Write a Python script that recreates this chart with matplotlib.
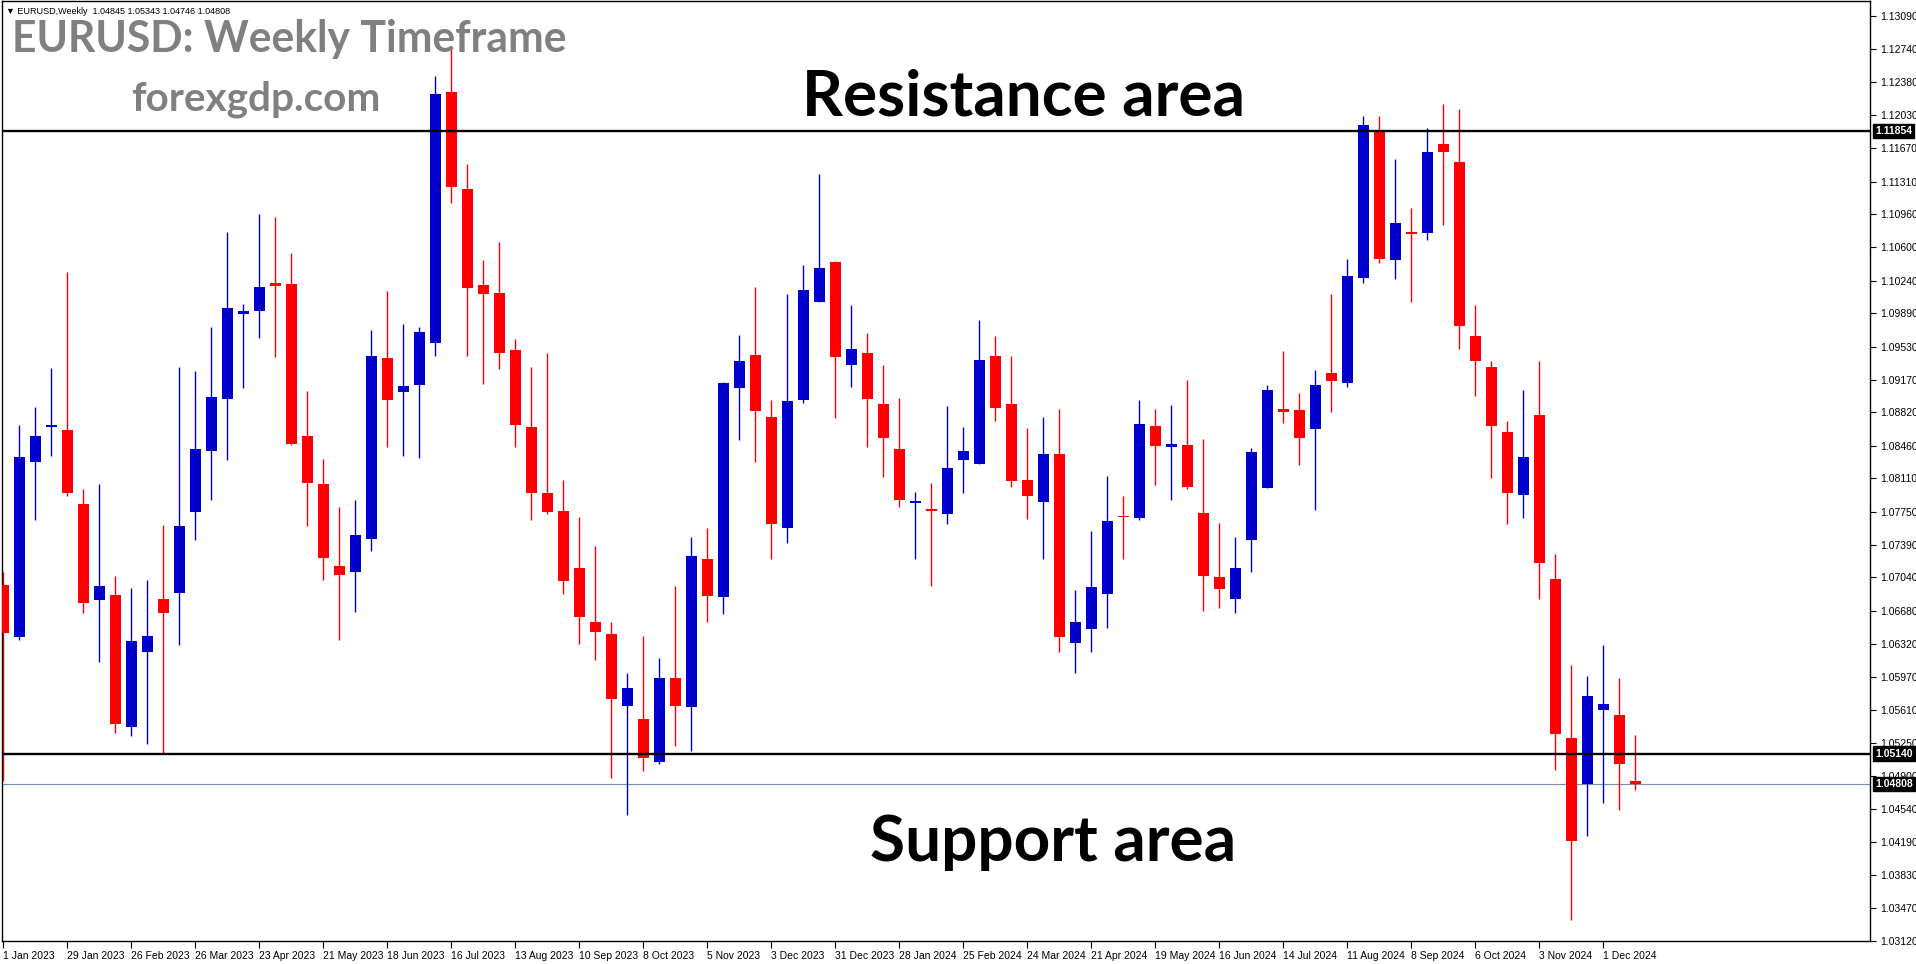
import matplotlib
matplotlib.use("Agg")
import matplotlib.pyplot as plt
import matplotlib.transforms as mtransforms
import numpy as np
import pandas as pd

# weekly EURUSD candles, 1 Jan 2023 .. 15 Dec 2024 (last one still open)
opens = [1.06954, 1.06397, 1.08286, 1.08664, 1.08627, 1.07828, 1.06800, 1.06849, 1.05431, 1.06236,
         1.06812, 1.06874, 1.07747, 1.08398, 1.08967, 1.09884, 1.09909, 1.10212, 1.10200, 1.08565,
         1.08045, 1.07159, 1.07103, 1.07456, 1.09407, 1.09036, 1.09110, 1.09568, 1.12275, 1.11228,
         1.10194, 1.10107, 1.09488, 1.08658, 1.07945, 1.07753, 1.07140, 1.06564, 1.06434, 1.05654,
         1.05511, 1.05047, 1.05951, 1.05647, 1.07233, 1.06831, 1.09085, 1.09438, 1.08769, 1.07574,
         1.08955, 1.10014, 1.10442, 1.09327, 1.09457, 1.08906, 1.08422, 1.07846, 1.07778, 1.07722,
         1.08311, 1.08268, 1.09426, 1.08906, 1.08088, 1.07853, 1.08367, 1.06335, 1.06484, 1.06861,
         1.07698, 1.07679, 1.08670, 1.08441, 1.08466, 1.07735, 1.07041, 1.06812, 1.07438, 1.08007,
         1.08856, 1.08844, 1.08645, 1.09240, 1.09141, 1.10274, 1.11841, 1.10466, 1.10764, 1.10751,
         1.11711, 1.11519, 1.09643, 1.09308, 1.08608, 1.07933, 1.08788, 1.07023, 1.05307, 1.04811,
         1.05610, 1.05555, 1.04845]
highs = [1.07103, 1.08683, 1.08875, 1.09296, 1.10330, 1.07989, 1.08045, 1.07054, 1.06923, 1.07010,
         1.07605, 1.09308, 1.09265, 1.09742, 1.10764, 1.09989, 1.10956, 1.10925, 1.10535, 1.09048,
         1.08317, 1.07797, 1.07871, 1.09705, 1.10126, 1.09773, 1.09742, 1.12448, 1.12758, 1.11501,
         1.10460, 1.10658, 1.09612, 1.09308, 1.09457, 1.08088, 1.07691, 1.07376, 1.06564, 1.06007,
         1.06409, 1.06168, 1.06942, 1.07475, 1.07568, 1.09147, 1.09655, 1.10169, 1.08949, 1.10095,
         1.10411, 1.11389, 1.10454, 1.09977, 1.09674, 1.09327, 1.08974, 1.07958, 1.08057, 1.08887,
         1.08658, 1.09816, 1.09643, 1.09426, 1.08652, 1.08769, 1.08856, 1.06899, 1.07537, 1.08131,
         1.07914, 1.08949, 1.08856, 1.08899, 1.09172, 1.08528, 1.07630, 1.07475, 1.08435, 1.09116,
         1.09482, 1.09029, 1.09277, 1.10095, 1.10473, 1.12015, 1.12015, 1.11550, 1.11024, 1.11885,
         1.12145, 1.12089, 1.09977, 1.09370, 1.08726, 1.09060, 1.09370, 1.07289, 1.06100, 1.05976,
         1.06310, 1.05951, 1.05343]
lows = [1.04842, 1.06366, 1.07661, 1.08354, 1.07921, 1.06657, 1.06131, 1.05363, 1.05332, 1.05245,
        1.05140, 1.06316, 1.07444, 1.07877, 1.08311, 1.09085, 1.09618, 1.09420, 1.08472, 1.07599,
        1.07016, 1.06360, 1.06669, 1.07326, 1.08441, 1.08354, 1.08329, 1.09432, 1.11073, 1.09432,
        1.09122, 1.09290, 1.08447, 1.07661, 1.07722, 1.06861, 1.06323, 1.06149, 1.04879, 1.04477,
        1.04954, 1.05028, 1.05220, 1.05171, 1.06564, 1.06645, 1.08521, 1.08286, 1.07233, 1.07413,
        1.08918, 1.10014, 1.08757, 1.09098, 1.08441, 1.08125, 1.07803, 1.07233, 1.06948, 1.07617,
        1.07952, 1.08268, 1.08732, 1.08014, 1.07667, 1.07233, 1.06230, 1.06013, 1.06236, 1.06496,
        1.07233, 1.07661, 1.08032, 1.07877, 1.07995, 1.06682, 1.06713, 1.06657, 1.07103, 1.08007,
        1.08701, 1.08255, 1.07772, 1.08819, 1.09098, 1.10219, 1.10435, 1.10262, 1.10014, 1.10683,
        1.10838, 1.09500, 1.08998, 1.08107, 1.07611, 1.07685, 1.06812, 1.04966, 1.03343, 1.04254,
        1.04607, 1.04533, 1.04746]
closes = [1.06440, 1.08336, 1.08565, 1.08689, 1.07945, 1.06769, 1.06942, 1.05462, 1.06354, 1.06403,
          1.06651, 1.07592, 1.08422, 1.08986, 1.09946, 1.09909, 1.10169, 1.10188, 1.08484, 1.08057,
          1.07252, 1.07066, 1.07493, 1.09426, 1.08955, 1.09104, 1.09686, 1.12250, 1.11253, 1.10157,
          1.10101, 1.09463, 1.08689, 1.07945, 1.07741, 1.07004, 1.06614, 1.06453, 1.05728, 1.05852,
          1.05096, 1.05951, 1.05654, 1.07270, 1.06843, 1.09135, 1.09370, 1.08837, 1.07617, 1.08943,
          1.10138, 1.10373, 1.09413, 1.09500, 1.08967, 1.08546, 1.07877, 1.07859, 1.07760, 1.08218,
          1.08404, 1.09382, 1.08862, 1.08082, 1.07921, 1.08367, 1.06397, 1.06564, 1.06936, 1.07648,
          1.07692, 1.08695, 1.08460, 1.08484, 1.08014, 1.07060, 1.06917, 1.07140, 1.08391, 1.09060,
          1.08819, 1.08546, 1.09116, 1.09153, 1.10287, 1.11916, 1.10479, 1.10863, 1.10739, 1.11625,
          1.11631, 1.09748, 1.09370, 1.08676, 1.07952, 1.08336, 1.07190, 1.05350, 1.04198, 1.05765,
          1.05678, 1.05028, 1.04808]

resistance = 1.11854
support = 1.05140
last_price = 1.04808

y_ticks = [1.13090, 1.12740, 1.12380, 1.12030, 1.11670, 1.11310, 1.10960, 1.10600, 1.10240,
           1.09890, 1.09530, 1.09170, 1.08820, 1.08460, 1.08110, 1.07750, 1.07390, 1.07040,
           1.06680, 1.06320, 1.05970, 1.05610, 1.05250, 1.04900, 1.04540, 1.04190, 1.03830,
           1.03470, 1.03120]
x_tick_labels = ["1 Jan 2023", "29 Jan 2023", "26 Feb 2023", "26 Mar 2023", "23 Apr 2023",
                 "21 May 2023", "18 Jun 2023", "16 Jul 2023", "13 Aug 2023", "10 Sep 2023",
                 "8 Oct 2023", "5 Nov 2023", "3 Dec 2023", "31 Dec 2023", "28 Jan 2024",
                 "25 Feb 2024", "24 Mar 2024", "21 Apr 2024", "19 May 2024", "16 Jun 2024",
                 "14 Jul 2024", "11 Aug 2024", "8 Sep 2024", "6 Oct 2024", "3 Nov 2024",
                 "1 Dec 2024"]

bull = "#0000CC"
bear = "#FF0000"
axis_font = "Liberation Sans"

o = np.array(opens)
h = np.array(highs)
l = np.array(lows)
c = np.array(closes)
x = np.arange(len(o))
dates = pd.date_range("2023-01-01", periods=len(o), freq="7D")
tick_pos = [dates.get_loc(d) for d in pd.to_datetime(x_tick_labels, format="%d %b %Y")]

W, H = 1916, 964
fig = plt.figure(figsize=(W / 100, H / 100), dpi=100)
ax = fig.add_axes([2 / W, 1 - 941 / H, 1868 / W, 940 / H])

colors = np.where(c >= o, bull, bear)
ax.vlines(x, l, h, colors=colors, lw=1.0, zorder=2)
body = np.maximum(np.abs(c - o), 0.00018)
ax.bar(x, body, bottom=(o + c) / 2 - body / 2, width=0.69, color=colors,
       linewidth=0, zorder=3)

ax.set_xlim(-0.08, 116.67)
ax.set_ylim(1.03118, 1.13257)

ax.axhline(resistance, color="black", lw=1.7, zorder=4)
ax.axhline(support, color="black", lw=1.7, zorder=4)
ax.axhline(last_price, color="#7b8aa8", lw=0.8, zorder=1)

# price scale on the right, MT4 style
ax.yaxis.tick_right()
ax.set_yticks(y_ticks)
ax.set_yticklabels([f"{v:.5f}" for v in y_ticks], fontsize=7.5, family=axis_font)
ax.tick_params(axis="y", direction="out", length=4, width=0.8, pad=3)
ax.set_xticks(tick_pos)
ax.set_xticklabels(x_tick_labels, fontsize=7.5, family=axis_font)
ax.tick_params(axis="x", direction="out", length=5, width=0.8, pad=2)
for lab in ax.get_xticklabels():
    lab.set_horizontalalignment("left")
for s in ax.spines.values():
    s.set_linewidth(1.0)

trans = mtransforms.blended_transform_factory(ax.transAxes, ax.transData)
for p in (resistance, support, last_price):
    ax.text(1.0 + 5 / 1868, p, f"{p:.5f}", transform=trans, ha="left", va="center",
            fontsize=7.5, family=axis_font, color="white", fontweight="bold", zorder=6,
            clip_on=False, bbox=dict(boxstyle="square,pad=0.2", fc="black", ec="black"))

fig.text(6 / W, 1 - 11 / H, "\u25BC EURUSD,Weekly  1.04845 1.05343 1.04746 1.04808",
         fontsize=6.5, family=["Liberation Sans", "DejaVu Sans"], va="center", ha="left",
         color="black")
fig.text(12 / W, 1 - 52 / H, "EURUSD: Weekly Timeframe", fontsize=30.7, family="Lato",
         fontweight="bold", color="#808080", ha="left", va="baseline")
fig.text(131 / W, 1 - 110 / H, "forexgdp.com", fontsize=29.2, family="Lato",
         fontweight="bold", color="#808080", ha="left", va="baseline")

ax.text(0.547, 0.8785, "Resistance area", transform=ax.transAxes, fontsize=46,
        family="Lato", fontweight="bold", color="black", ha="center", va="baseline")
ax.text(0.5627, 0.0848, "Support area", transform=ax.transAxes, fontsize=46,
        family="Lato", fontweight="bold", color="black", ha="center", va="baseline")

fig.savefig("out.png", dpi=100, facecolor="white")
